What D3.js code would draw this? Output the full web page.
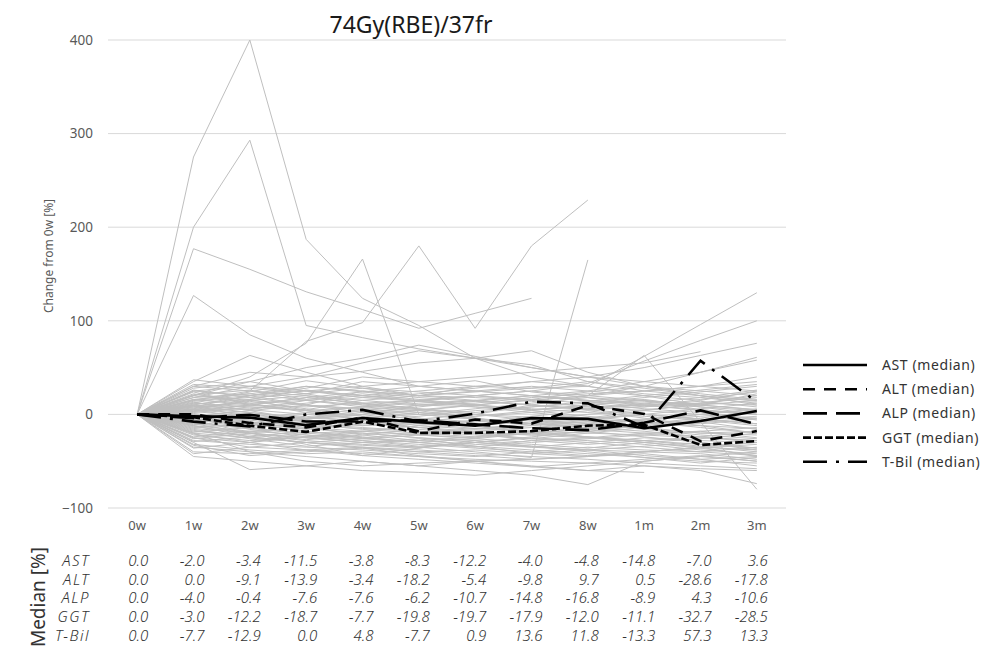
<!DOCTYPE html>
<html>
<head>
<meta charset="utf-8">
<script src="https://cdn.jsdelivr.net/npm/d3@7"></script>
<style>
  body { margin: 0; background: #fff; }
  text { font-family: "Noto Sans", "Open Sans", sans-serif; }
</style>
</head>
<body>
<div id="chart"></div>
<script>
// time points
const timepoints = ["0w","1w","2w","3w","4w","5w","6w","7w","8w","1m","2m","3m"]
const yTicks = [-100, 0, 100, 200, 300, 400]

// median rows (table + black lines)
const astMedian  = [0.0, -2.0, -3.4, -11.5, -3.8, -8.3, -12.2, -4.0, -4.8, -14.8, -7.0, 3.6]
const altMedian  = [0.0, 0.0, -9.1, -13.9, -3.4, -18.2, -5.4, -9.8, 9.7, 0.5, -28.6, -17.8]
const alpMedian  = [0.0, -4.0, -0.4, -7.6, -7.6, -6.2, -10.7, -14.8, -16.8, -8.9, 4.3, -10.6]
const ggtMedian  = [0.0, -3.0, -12.2, -18.7, -7.7, -19.8, -19.7, -17.9, -12.0, -11.1, -32.7, -28.5]
const tbilMedian = [0.0, -7.7, -12.9, 0.0, 4.8, -7.7, 0.9, 13.6, 11.8, -13.3, 57.3, 13.3]

// individual patient curves (grey)
const patientLines = [
  [0, 275, 400, 187, 124, 95, 60, 40, 30, 20, 10, 5],
  [0, 200, 293, 95, 82, 70, 60, 50, 40, 35, 30, 25],
  [0, 177, 155, 131, 112, 92, 108, 124, null, null, null, null],
  [0, 127, 85, 60, 45, 30, 25, 20, 15, 10, 5, 0],
  [0, 30, 25, 78, 98, 180, 92, 180, 229, null, null, null],
  [0, 20, 40, 76, 166, 0, -5, -10, -5, 0, -5, -10],
  [0, -10, -20, -25, -30, -35, -40, -46, 165, null, null, null],
  [0, 10, 5, 15, 20, 25, 30, 28, 30, 62, 96, 130],
  [0, 5, 15, 20, 10, 15, 20, 25, 33, 57, 79, 100],
  [0, 15, 20, 10, 25, 20, 30, 35, 40, 50, 63, 76],
  [0, -5, -10, -15, -10, -5, 0, 10, 20, 63, -8, -80],
  [0, 10, 20, 25, 30, 35, 40, 45, 50, 55, 67, null],
  [0, 30, 45, 40, 46, 55, 60, 68, 45, 30, 20, 15],
  [0, 20, 35, 50, 60, 74, 62, 50, 40, 30, 25, 20],
  [0, 25, 30, 40, 55, 68, 60, 53, 35, 25, 20, 10],
  [0, 35, 63, 45, 30, 20, 15, 10, 5, 0, -5, -10],
  [0, 5, 0, -5, 0, 5, 10, 15, 20, 30, 45, 61],
  [0, -5, -10, -5, 0, 10, 15, 20, 25, 35, 45, 58],
  [0, 37, 30, 25, 20, 15, 20, 25, 20, 15, 10, 5],
  [0, -45, -50, -55, -50, -55, -60, -65, -75, -50, -45, -40],
  [0, -30, -59, -55, -60, -62, -65, -60, -55, -50, -45, -50],
  [0, -20, -40, -45, -50, -55, -50, -55, -60, -55, -60, -74],
  [0, -35, -40, -50, -55, -52, -50, -48, -45, -40, -35, -30],
  [0, -25, -35, -38, -42, -45, -48, -50, -52, -55, -58, -60],
  [0, 10, 5, 0, -5, -10, -8, -5, 0, 5, 10, 15],
  [0, -10, -15, -20, -18, -22, -25, -20, -15, -10, -12, -15],
  [0, 5, 10, 8, 12, 15, 10, 5, 8, 10, 12, 20],
  [0, -15, -20, -25, -30, -28, -32, -35, -30, -25, -28, -30],
  [0, 20, 15, 10, 5, 0, -5, -10, -8, -5, 0, 5],
  [0, -5, -8, -12, -15, -18, -20, -22, -25, -20, -18, -25],
  [0, 15, 25, 20, 15, 10, 12, 18, 22, 25, 30, 35],
  [0, -20, -25, -30, -35, -40, -38, -42, -45, -40, -35, -45],
  [0, 8, 12, 15, 10, 5, 0, -3, -5, -8, -10, -5],
  [0, -8, -5, 0, 5, 10, 8, 5, 10, 15, 5, 0],
  [0, 25, 20, 30, 25, 20, 18, 15, 20, 25, 30, 40],
  [0, -12, -18, -15, -20, -25, -30, -35, -38, -40, -42, -48],
  [0, 3, -2, -8, -12, -10, -15, -18, -20, -22, -25, -28],
  [0, -25, -30, -20, -25, -30, -35, -28, -25, -30, -35, -38],
  [0, 12, 8, 5, 15, 20, 25, 30, 25, 20, 15, 25],
  [0, -3, -10, -18, -25, -20, -15, -10, -12, -15, -20, -22],
  [0, 18, 22, 15, 8, 12, 15, 10, 5, 8, 12, 10],
  [0, -18, -22, -28, -32, -35, -30, -25, -28, -32, -38, -42],
  [0, 6, 2, -4, -6, -2, 4, 8, 12, 6, 2, -6],
  [0, -6, -12, -8, -4, -12, -16, -12, -8, -14, -20, -18],
  [0, 28, 35, 25, 18, 22, 28, 35, 30, 22, 18, 12],
  [0, -28, -32, -35, -38, -42, -45, -40, -35, -38, -40, -35],
  [0, 2, 8, 4, -2, -8, -12, -8, -4, 0, -5, -10],
  [0, -14, -10, -6, -10, -14, -18, -22, -18, -12, -8, -4],
  [0, 14, 18, 22, 28, 24, 20, 16, 12, 18, 24, 30],
  [0, -32, -38, -42, -40, -45, -50, -48, -45, -42, -48, -55],
  [0, 9, -3, -10, -16, -20, -24, -18, -14, -10, -6, -2],
  [0, -2, 4, 10, 6, 2, -2, 2, 6, 10, 14, 8],
  [0, -22, -28, -24, -20, -25, -28, -32, -36, -30, -26, -20],
  [0, 32, 28, 22, 35, 30, 25, 20, 15, 12, 8, 4],
  [0, -9, -14, -22, -26, -30, -34, -38, -42, -46, -50, -52],
  [0, 4, 6, 12, 18, 14, 10, 6, 2, -2, -6, -12],
  [0, -16, -24, -30, -26, -22, -18, -14, -10, -16, -22, -26],
  [0, 22, 12, 2, -4, 0, 6, 12, 18, 14, 10, 22],
  [0, -40, -42, -38, -35, -38, -42, -45, -48, -52, -55, -58],
  [0, 7, 14, 6, -2, 4, 10, 4, -2, -8, -14, -20],
  [0, -4, -16, -24, -18, -12, -6, -10, -14, -18, -24, -30],
  [0, 16, 10, 4, 8, 14, 20, 14, 8, 4, 0, -4],
  [0, -26, -20, -14, -18, -22, -26, -30, -26, -22, -18, -14],
  [0, 12, 24, 36, 28, 20, 24, 28, 35, 28, 20, 14],
  [0, -11, -6, -2, -8, -14, -10, -6, -10, -6, -2, 2],
  [0, 26, 18, 10, 2, -6, -12, -18, -24, -28, -32, -36],
  [0, -36, -30, -24, -28, -32, -36, -40, -44, -40, -36, -32],
  [0, 1, -6, -14, -22, -28, -24, -20, -16, -20, -24, -28],
  [0, 18, 30, 22, 12, 6, 2, 8, 14, 20, 26, 32],
  [0, -12, -24, -30, -36, -40, -44, -48, null, null, null, null],
  [0, 8, 20, 28, 40, 35, 30, null, null, null, null, null],
  [0, -6, -20, -32, -44, -48, -52, -56, -60, -62, null, null],
  [0, -42, -35, -30, -33, -36, -30, -34, -38, -44, -48, -45],
  [0, 11, 16, 4, -6, -14, -20, -26, -20, -14, -8, -16],
  [0, -19, -14, -10, -14, -18, -22, -26, -30, -35, -40, -44],
  [0, 24, 10, 18, 24, 30, 36, 24, 18, 10, 4, 0],
  [0, -7, -4, 2, 8, 4, -4, -12, -6, 0, 6, 12],
  [0, 13, 4, -6, -12, -8, -2, 4, 10, 16, 8, 0],
  [0, -24, -18, -22, -28, -34, -30, -24, -18, -24, -30, -36],
  [0, 6, 16, 26, 20, 14, 8, 2, -4, 4, 12, 18],
  [0, -17, -26, -34, -30, -26, -34, -42, -38, -34, -30, -38],
  [0, 3, 10, 18, 12, 6, 0, -6, -12, -6, 0, 6],
  [0, -1, -12, -4, 4, -4, -8, -2, 4, -4, -12, -20],
  [0, 21, 26, 16, 22, 16, 10, 16, 24, 30, 22, 16],
  [0, -29, -24, -18, -24, -30, -26, -20, -24, -28, -34, -40],
  [0, 9, 2, -4, 2, 8, 14, 20, 14, 8, 16, 24],
  [0, -13, -20, -27, -22, -16, -20, -28, -32, -28, -24, -18],
  [0, 0, -8, -16, -10, -4, -12, -20, -24, -30, -36, -44],
  [0, 16, 22, 30, 24, 18, 14, 10, 6, 12, 18, 26],
  [0, -21, -30, -38, -44, -36, -28, -34, -40, -46, -52, -46],
  [0, 5, -4, -10, -4, 2, -4, -10, -16, -10, -4, 4],
  [0, -33, -44, -40, -36, -44, -50, -56, -52, -48, -44, -50]
]

function drawChart()
{
  let svg = d3.select("#chart").append("svg")
    .attr("width", 983)
    .attr("height", 651)

  let x = d3.scaleBand()
    .domain(timepoints)
    .range([109, 785])
    .padding(0)
  let cx = d => x(d) + x.bandwidth() / 2

  let y = d3.scaleLinear()
    .domain([-100, 400])
    .range([508, 40])

  // grid
  svg.append("g")
    .selectAll("line")
    .data(yTicks)
    .enter()
    .append("line")
    .attr("x1", 108)
    .attr("x2", 786)
    .attr("y1", d => y(d))
    .attr("y2", d => y(d))
    .attr("stroke", "#d9d9d9")
    .attr("stroke-width", 1)

  // y axis labels
  let yAxis = svg.append("g")
    .attr("transform", "translate(93,0)")
    .call(d3.axisLeft(y).tickValues(yTicks).tickSize(0).tickPadding(0))
  yAxis.select(".domain").remove()
  yAxis.selectAll("text")
    .style("font-size", "13.5px")
    .style("font-family", "'Noto Sans', sans-serif")
    .attr("fill", "#595959")

  // x axis labels
  let xAxis = svg.append("g")
    .attr("transform", "translate(0,521)")
    .call(d3.axisBottom(x).tickSize(0).tickPadding(0))
  xAxis.select(".domain").remove()
  xAxis.selectAll("text")
    .style("font-size", "13px")
    .style("font-family", "'Noto Sans', sans-serif")
    .attr("fill", "#595959")

  svg.append("text")
    .attr("transform", "translate(53,256) rotate(-90)")
    .attr("text-anchor", "middle")
    .style("font-size", "12px")
    .attr("fill", "#595959")
    .text("Change from 0w [%]")

  svg.append("text")
    .attr("x", 411)
    .attr("y", 33)
    .attr("text-anchor", "middle")
    .style("font-size", "23px")
    .attr("fill", "#1a1a1a")
    .text("74Gy(RBE)/37fr")

  let line = d3.line()
    .defined(d => d.v != null)
    .x(d => cx(d.t))
    .y(d => y(d.v))

  // grey patient lines
  svg.append("g")
    .selectAll("path")
    .data(patientLines)
    .enter()
    .append("path")
    .attr("d", d => line(d.map((v, i) => ({t: timepoints[i], v: v}))))
    .attr("fill", "none")
    .attr("stroke", "#bfbfbf")
    .attr("stroke-width", 1)

  // medians
  let medians = [
    {name: "AST", values: astMedian, dash: null},
    {name: "ALT", values: altMedian, dash: "12,9"},
    {name: "ALP", values: alpMedian, dash: "24,9"},
    {name: "GGT", values: ggtMedian, dash: "8,3"},
    {name: "T-Bil", values: tbilMedian, dash: "24,9,3,9"}
  ]

  svg.append("g")
    .selectAll("path")
    .data(medians)
    .enter()
    .append("path")
    .attr("d", d => line(d.values.map((v, i) => ({t: timepoints[i], v: v}))))
    .attr("fill", "none")
    .attr("stroke", "#000")
    .attr("stroke-width", 2.6)
    .attr("stroke-dasharray", d => d.dash)

  // legend
  let legend = svg.append("g")
    .selectAll("g")
    .data(medians)
    .enter()
    .append("g")
    .attr("transform", (d, i) => "translate(803," + (365 + i * 24.2) + ")")
  legend.append("line")
    .attr("x1", 0)
    .attr("x2", 64)
    .attr("stroke", "#000")
    .attr("stroke-width", 2.6)
    .attr("stroke-dasharray", d => d.dash)
  legend.append("text")
    .attr("x", 79)
    .attr("y", 5)
    .style("font-size", "14px")
    .style("letter-spacing", "0.6px")
    .attr("fill", "#333")
    .text(d => d.name + " (median)")

  // table below
  let rows = svg.append("g")
    .selectAll("g")
    .data(medians)
    .enter()
    .append("g")
    .attr("transform", (d, i) => "translate(0," + (566 + i * 18.7) + ")")
  rows.append("text")
    .attr("x", 90)
    .attr("text-anchor", "end")
    .style("font-size", "15px")
    .style("font-style", "italic")
    .style("font-weight", 300)
    .style("letter-spacing", "1.5px")
    .attr("fill", "#333")
    .text(d => d.name)
  rows.selectAll(".val")
    .data(d => d.values)
    .enter()
    .append("text")
    .attr("class", "val")
    .attr("x", (v, i) => cx(timepoints[i]) + 11)
    .attr("text-anchor", "end")
    .style("font-size", "15px")
    .style("font-style", "italic")
    .style("font-weight", 300)
    .attr("fill", "#333")
    .text(v => v.toFixed(1))

  svg.append("text")
    .attr("transform", "translate(45,597) rotate(-90)")
    .attr("text-anchor", "middle")
    .style("font-size", "19px")
    .attr("fill", "#333")
    .text("Median [%]")
}

drawChart()
</script>
</body>
</html>
